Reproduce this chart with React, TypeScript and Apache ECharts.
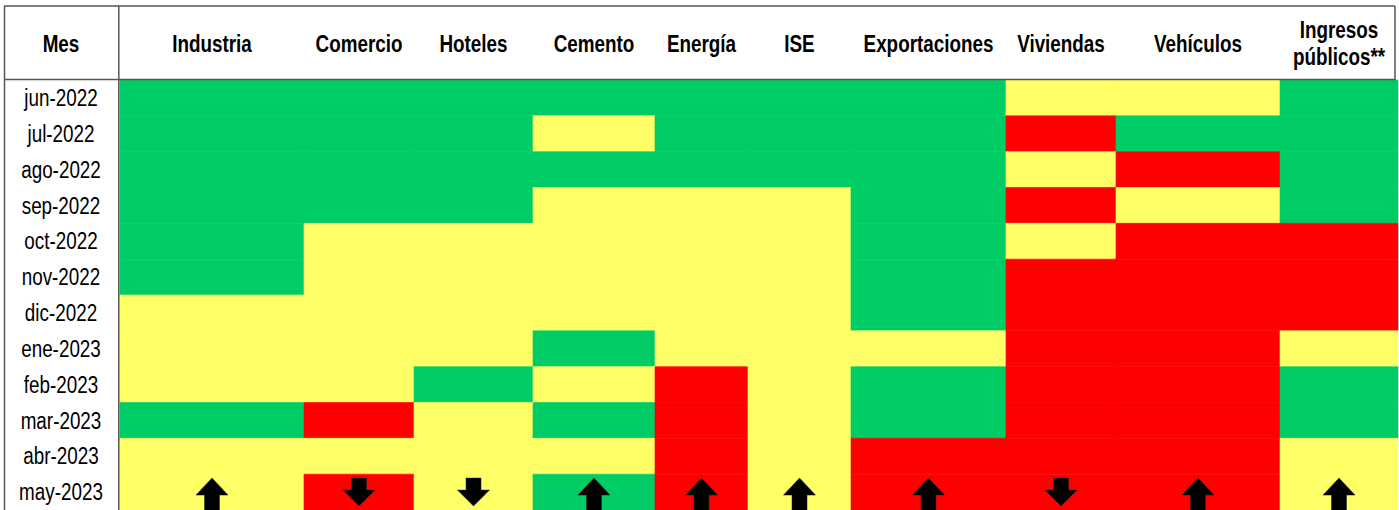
import React, { useEffect, useRef } from "react";
import * as echarts from "echarts";

// ---- Data ----
const MONTHS = [
  "jun-2022", "jul-2022", "ago-2022", "sep-2022", "oct-2022", "nov-2022",
  "dic-2022", "ene-2023", "feb-2023", "mar-2023", "abr-2023", "may-2023",
];
const COLUMNS = [
  "Industria", "Comercio", "Hoteles", "Cemento", "Energía", "ISE",
  "Exportaciones", "Viviendas", "Vehículos", "Ingresos\npúblicos**",
];
// V = verde, A = amarillo, R = rojo (one entry per month)
const INDUSTRIA = ["V", "V", "V", "V", "V", "V", "A", "A", "A", "V", "A", "A"];
const COMERCIO = ["V", "V", "V", "V", "A", "A", "A", "A", "A", "R", "A", "R"];
const HOTELES = ["V", "V", "V", "V", "A", "A", "A", "A", "V", "A", "A", "A"];
const CEMENTO = ["V", "A", "V", "A", "A", "A", "A", "V", "A", "V", "A", "V"];
const ENERGIA = ["V", "V", "V", "A", "A", "A", "A", "A", "R", "R", "R", "R"];
const ISE = ["V", "V", "V", "A", "A", "A", "A", "A", "A", "A", "A", "A"];
const EXPORTACIONES = ["V", "V", "V", "V", "V", "V", "V", "A", "V", "V", "R", "R"];
const VIVIENDAS = ["A", "R", "A", "R", "A", "R", "R", "R", "R", "R", "R", "R"];
const VEHICULOS = ["A", "V", "R", "A", "R", "R", "R", "R", "R", "R", "R", "R"];
const INGRESOS = ["V", "V", "V", "V", "R", "R", "R", "A", "V", "V", "A", "A"];
const STATUS = [
  INDUSTRIA, COMERCIO, HOTELES, CEMENTO, ENERGIA, ISE,
  EXPORTACIONES, VIVIENDAS, VEHICULOS, INGRESOS,
];
// Trend of the latest month
const TREND = ["up", "down", "down", "up", "up", "up", "up", "down", "up", "up"];

// ---- Layout / style ----
const COL_WIDTHS = [184, 110, 119, 122, 93, 103, 155, 110, 164, 118];
const COLORS: Record<string, string> = { V: "#00CC66", A: "#FFFF66", R: "#FF0000" };
const FONT = "'Liberation Sans', Arial, sans-serif";
const NARROW = 0.82;
const GRID_LEFT = 120;
const GRID_TOP = 80;
const ROW_H = 36;
const LABEL_X = 61;

const colStarts: number[] = [];
{
  let acc = 0;
  for (const w of COL_WIDTHS) {
    colStarts.push(acc);
    acc += w;
  }
}
const TOTAL_W = COL_WIDTHS.reduce((a, b) => a + b, 0);

export default function App() {
  const ref = useRef<HTMLDivElement>(null);

  useEffect(() => {
    document.body.style.margin = "0";
    if (!ref.current) return;
    const chart = echarts.init(ref.current, undefined, { renderer: "svg" });

    const statusKeys = ["V", "A", "R"];
    const cellData: number[][] = [];
    STATUS.forEach((col, ci) => {
      col.forEach((s, ri) => {
        cellData.push([ci, ri, statusKeys.indexOf(s)]);
      });
    });
    const arrowData = TREND.map((t, ci) => [ci, MONTHS.length - 1, t === "up" ? 1 : -1]);
    const labelData = MONTHS.map((m, ri) => [0, ri]);

    const headerTexts = COLUMNS.map((name, ci) => ({
      type: "text",
      x: GRID_LEFT + colStarts[ci] + COL_WIDTHS[ci] / 2,
      y: name.includes("\n") ? 43 : 44,
      scaleX: NARROW,
      style: {
        text: name,
        fill: "#000",
        font: `bold 23px ${FONT}`,
        textAlign: "center",
        textVerticalAlign: "middle",
        lineHeight: 27,
      },
      z: 10,
    }));

    const lineStyle = { stroke: "#555", lineWidth: 1.5 };

    chart.setOption({
      animation: false,
      backgroundColor: "#fff",
      grid: { left: GRID_LEFT, top: GRID_TOP, right: 1, height: ROW_H * MONTHS.length },
      xAxis: {
        type: "value",
        min: 0,
        max: TOTAL_W,
        show: false,
      },
      yAxis: {
        type: "category",
        data: MONTHS,
        inverse: true,
        axisLine: { show: false },
        axisTick: { show: false },
        splitLine: { show: false },
        axisLabel: { show: false },
      },
      series: [
        {
          type: "custom",
          data: cellData,
          encode: { x: 0, y: 1 },
          renderItem: (params: any, api: any) => {
            const ci = api.value(0);
            const ri = api.value(1);
            const s = statusKeys[api.value(2)];
            const p0 = api.coord([colStarts[ci], ri]);
            const p1 = api.coord([colStarts[ci] + COL_WIDTHS[ci], ri]);
            const h = api.size([0, 1])[1];
            return {
              type: "rect",
              shape: { x: p0[0], y: p0[1] - h / 2, width: p1[0] - p0[0], height: h },
              style: { fill: COLORS[s], stroke: COLORS[s], lineWidth: 0.6 },
            };
          },
        },
        {
          type: "custom",
          data: labelData,
          encode: { y: 1 },
          z: 6,
          renderItem: (params: any, api: any) => {
            const ri = api.value(1);
            const c = api.coord([0, ri]);
            return {
              type: "text",
              x: LABEL_X,
              y: c[1],
              scaleX: NARROW,
              style: {
                text: MONTHS[ri],
                fill: "#000",
                font: `23px ${FONT}`,
                textAlign: "center",
                textVerticalAlign: "middle",
              },
            };
          },
        },
        {
          type: "custom",
          data: arrowData,
          encode: { x: 0, y: 1 },
          z: 5,
          renderItem: (params: any, api: any) => {
            const ci = api.value(0);
            const ri = api.value(1);
            const dir = api.value(2);
            const c = api.coord([colStarts[ci] + COL_WIDTHS[ci] / 2, ri]);
            const cx = c[0];
            const top = c[1] - 14;
            let pts: number[][];
            if (dir > 0) {
              pts = [
                [0, 0], [16, 17], [7.5, 17], [7.5, 36], [-7.5, 36], [-7.5, 17], [-16, 17],
              ];
            } else {
              pts = [
                [-7.5, 0], [7.5, 0], [7.5, 12], [16, 12], [0, 28], [-16, 12], [-7.5, 12],
              ];
            }
            return {
              type: "polygon",
              shape: { points: pts.map(([dx, dy]) => [cx + dx, top + dy]) },
              style: { fill: "#000", stroke: "#222", lineWidth: 0.5 },
            };
          },
        },
      ],
      graphic: [
        ...headerTexts,
        {
          type: "text",
          x: LABEL_X,
          y: 44,
          scaleX: NARROW,
          style: {
            text: "Mes",
            fill: "#000",
            font: `bold 23px ${FONT}`,
            textAlign: "center",
            textVerticalAlign: "middle",
          },
          z: 10,
        },
        { type: "line", shape: { x1: 4, y1: 6, x2: 1395, y2: 6 }, style: lineStyle, z: 20 },
        { type: "line", shape: { x1: 4.5, y1: 6, x2: 4.5, y2: 512 }, style: lineStyle, z: 20 },
        { type: "line", shape: { x1: 1395, y1: 6, x2: 1395, y2: 80 }, style: lineStyle, z: 20 },
        { type: "line", shape: { x1: 4, y1: 79.5, x2: 1395, y2: 79.5 }, style: lineStyle, z: 20 },
        { type: "line", shape: { x1: 118.8, y1: 6, x2: 118.8, y2: 512 }, style: lineStyle, z: 20 },
      ],
    });

    return () => chart.dispose();
  }, []);

  return <div ref={ref} style={{ width: 1399, height: 510 }} />;
}
